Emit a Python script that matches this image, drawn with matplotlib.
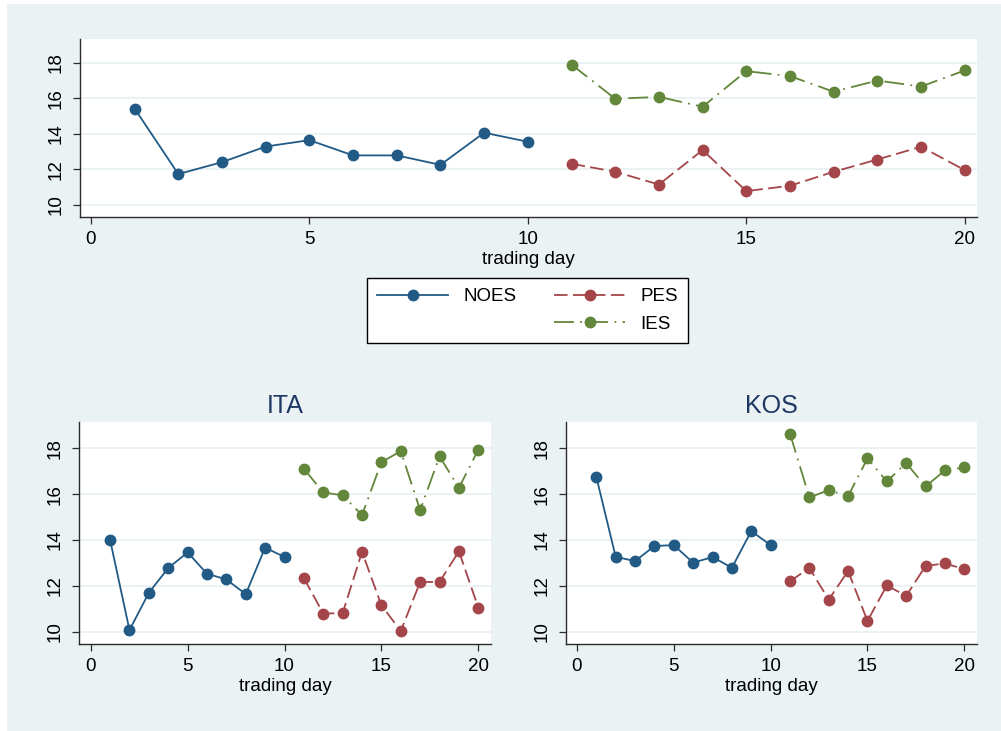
import numpy as np
import matplotlib.pyplot as plt
from matplotlib.lines import Line2D
from matplotlib.patches import Rectangle

plt.rcParams['font.family'] = ['Liberation Sans', 'DejaVu Sans']

# trading days
days_noes = [1, 2, 3, 4, 5, 6, 7, 8, 9, 10]
days_es = [11, 12, 13, 14, 15, 16, 17, 18, 19, 20]

# pooled (top panel)
all_noes = [15.42, 11.73, 12.40, 13.28, 13.64, 12.78, 12.78, 12.25, 14.06, 13.55]
all_pes = [12.31, 11.86, 11.14, 13.08, 10.77, 11.07, 11.86, 12.55, 13.27, 11.95]
all_ies = [17.90, 15.97, 16.08, 15.52, 17.53, 17.25, 16.37, 17.00, 16.66, 17.57]

# ITA
ita_noes = [14.00, 10.07, 11.70, 12.78, 13.46, 12.53, 12.28, 11.64, 13.67, 13.26]
ita_pes = [12.34, 10.79, 10.81, 13.49, 11.15, 10.03, 12.17, 12.17, 13.51, 11.05]
ita_ies = [17.11, 16.08, 15.95, 15.09, 17.40, 17.88, 15.31, 17.65, 16.28, 17.94]

# KOS
kos_noes = [16.76, 13.27, 13.08, 13.74, 13.78, 13.01, 13.26, 12.79, 14.39, 13.78]
kos_pes = [12.20, 12.78, 11.40, 12.65, 10.47, 12.02, 11.56, 12.87, 12.98, 12.73]
kos_ies = [18.65, 15.86, 16.18, 15.92, 17.56, 16.56, 17.36, 16.34, 17.04, 17.17]

x_ticks = [0, 5, 10, 15, 20]
y_ticks = [10, 12, 14, 16, 18]

bg = '#eaf2f3'
c_noes = '#215a85'
c_pes = '#a4454a'
c_ies = '#62863a'
dark = '#2b2b2b'

W, H = 1001, 731
fig = plt.figure(figsize=(W / 100, H / 100), dpi=100, facecolor='white')
fig.patches.append(Rectangle((7 / W, 0), 1 - 7 / W, 1 - 4 / H, transform=fig.transFigure,
                             facecolor=bg, edgecolor='none', zorder=-10))


def px_axes(x0, y0, x1, y1):
    return fig.add_axes([x0 / W, 1 - y1 / H, (x1 - x0) / W, (y1 - y0) / H])


def draw(ax, noes, pes, ies, xlim, ylim, title=None):
    ax.set_facecolor('white')
    ms = 7.5
    ax.plot(days_noes, noes, color=c_noes, lw=1.3, marker='o', ms=ms, label='NOES')
    ax.plot(days_es, pes, color=c_pes, lw=1.3, marker='o', ms=ms,
            linestyle=(0, (7.5, 3)), label='PES')
    ax.plot(days_es, ies, color=c_ies, lw=1.3, marker='o', ms=ms,
            linestyle=(0, (11, 3.5, 1, 3.5)), label='IES')
    ax.set_xlim(*xlim)
    ax.set_ylim(*ylim)
    ax.set_xticks(x_ticks)
    ax.set_yticks(y_ticks)
    ax.set_yticklabels([str(v) for v in y_ticks], rotation=90, va='center')
    for s in ['top', 'right']:
        ax.spines[s].set_visible(False)
    for s in ['left', 'bottom']:
        ax.spines[s].set_color(dark)
        ax.spines[s].set_linewidth(1.0)
    ax.tick_params(axis='both', colors=dark, labelcolor='black', length=5,
                   width=0.9, labelsize=13.5)
    ax.tick_params(axis='x', pad=5)
    ax.tick_params(axis='y', pad=6)
    ax.grid(axis='y', color=bg, lw=1.4)
    ax.set_axisbelow(True)
    ax.set_xlabel('trading day', fontsize=13.5, labelpad=2)
    if title:
        ax.set_title(title, fontsize=18, color='#1f3765', pad=7)


ax_top = px_axes(80, 39, 977, 217)
draw(ax_top, all_noes, all_pes, all_ies, (-0.25, 20.28), (9.31, 19.34))

ax_ita = px_axes(79.3, 422.3, 490.7, 644.3)
draw(ax_ita, ita_noes, ita_pes, ita_ies, (-0.59, 20.64), (9.45, 19.14), 'ITA')

ax_kos = px_axes(565.7, 422.3, 976.7, 644.3)
draw(ax_kos, kos_noes, kos_pes, kos_ies, (-0.58, 20.64), (9.45, 19.14), 'KOS')

h, l = ax_top.get_legend_handles_labels()
blank = Line2D([], [], color='none')
leg = fig.legend([h[0], blank, h[1], h[2]], ['NOES', '', 'PES', 'IES'], ncol=2,
                 loc='upper center', bbox_to_anchor=(527.5 / W, 1 - 278 / H),
                 borderaxespad=0, fontsize=13.5, frameon=True, fancybox=False,
                 framealpha=1, edgecolor='black', facecolor='white',
                 handlelength=3.8, columnspacing=2.0, labelspacing=0.55,
                 handletextpad=0.8, borderpad=0.55)
leg.get_frame().set_linewidth(1.0)

fig.savefig('out.png', dpi=100, facecolor=fig.get_facecolor())
